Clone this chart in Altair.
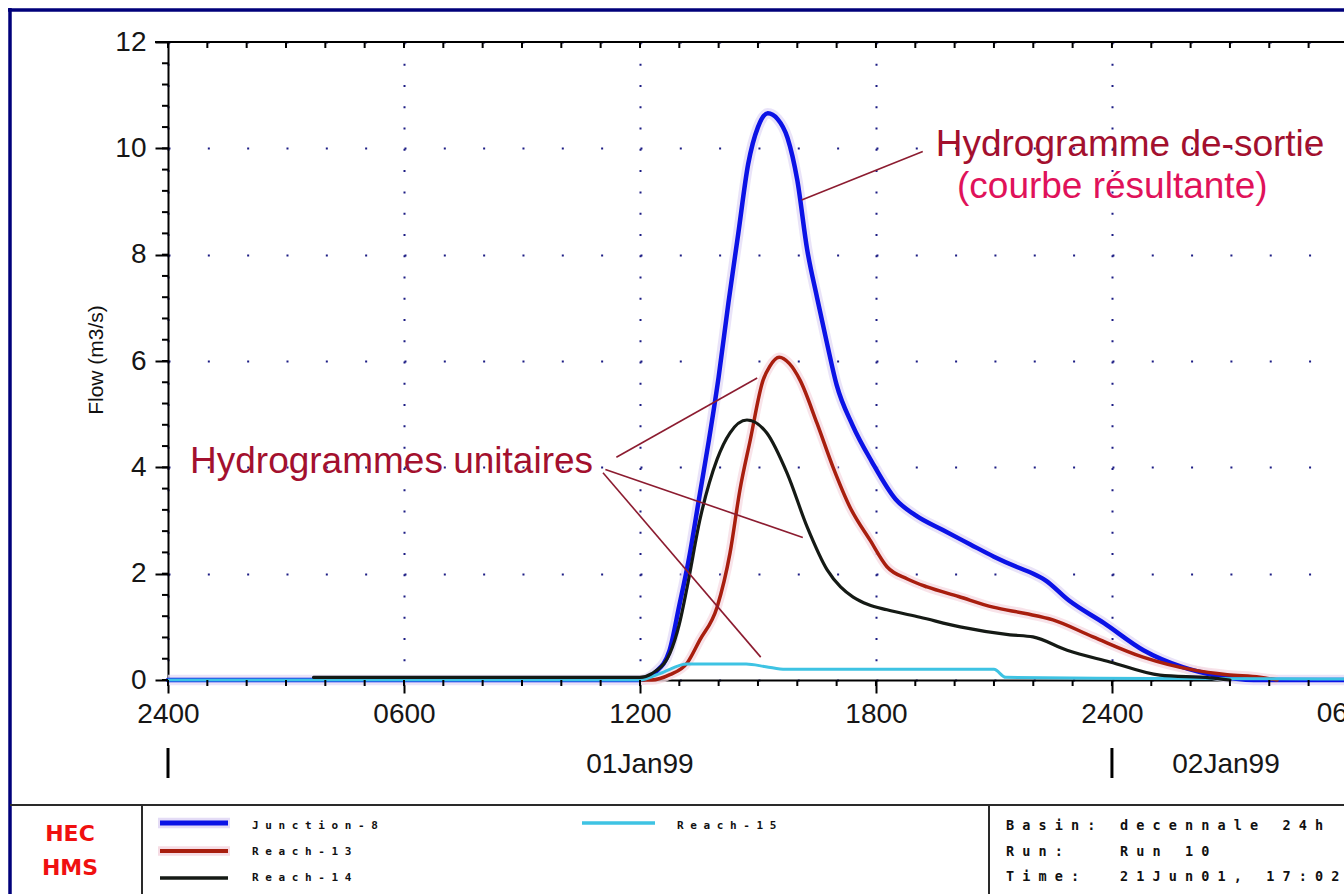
import altair as alt
import pandas as pd

# ---------------- data ----------------
series_names = ["Junction-8", "Reach-13", "Reach-14", "Reach-15"]
series_colors = ["#0b12e6", "#a81e0e", "#151a15", "#3ec3e3"]
series_halo = ["#e4dcf6", "#f6dce4", None, None]
series_widths = [4.5, 3.5, 3.2, 3.0]
draw_order = ["Junction-8", "Reach-13", "Reach-15", "Reach-14"]

junction8_t = [0, 12.0, 12.4, 12.75, 13.0, 13.25, 13.5, 13.75, 14.0, 14.25, 14.5, 14.75,
               15.0, 15.25, 15.5, 15.75, 16.0, 16.25, 16.5, 16.75, 17.0, 17.4, 17.9, 18.5,
               19.0, 19.7, 20.4, 21.0, 21.6, 22.0, 22.3, 22.9, 23.8, 24.8, 25.8, 26.6, 27.6, 29.9]
junction8_q = [0, 0.0, 0.15, 0.55, 1.4, 2.3, 3.4, 4.5, 5.7, 7.1, 8.4, 9.7,
               10.4, 10.66, 10.55, 10.2, 9.4, 8.1, 7.2, 6.35, 5.55, 4.8, 4.1, 3.4,
               3.1, 2.82, 2.55, 2.32, 2.12, 2.0, 1.88, 1.5, 1.07, 0.56, 0.24, 0.09, 0.0, 0.0]

reach13_t = [12.0, 12.3, 12.76, 13.2, 13.52, 13.96, 14.29, 14.54, 14.8, 15.13, 15.3, 15.54, 15.8,
             16.07, 16.5, 16.91, 17.34, 17.85, 18.28, 18.8, 19.3, 20.1, 20.98, 21.8, 22.5,
             23.52, 24.79, 26.06, 26.93, 27.76, 28.2]
reach13_q = [0, 0, 0.1, 0.32, 0.75, 1.37, 2.39, 3.57, 4.5, 5.64, 5.9, 6.07, 5.95,
             5.64, 4.83, 4.0, 3.25, 2.63, 2.13, 1.9, 1.75, 1.57, 1.37, 1.25, 1.13,
             0.81, 0.43, 0.19, 0.1, 0.05, 0.0]

reach14_t = [3.7, 12.0, 12.3, 12.76, 13.0, 13.2, 13.52, 13.96, 14.29, 14.72, 15.23, 15.74,
             16.25, 16.76, 17.1, 17.42, 17.8, 18.28, 19.12, 20.14, 21.41, 21.99, 22.86,
             23.95, 25.22, 26.49, 27.0]
reach14_q = [0.05, 0.05, 0.12, 0.5, 1.05, 1.75, 3.0, 4.15, 4.65, 4.89, 4.64, 3.89,
             2.88, 2.07, 1.75, 1.56, 1.42, 1.32, 1.18, 1.0, 0.85, 0.81, 0.56,
             0.34, 0.09, 0.04, 0.0]

reach15_t = [0, 12.0, 12.5, 13.2, 14.7, 15.2, 15.7, 16.2, 21.0, 21.3, 25.0, 29.9]
reach15_q = [0, 0, 0.12, 0.3, 0.3, 0.25, 0.2, 0.2, 0.2, 0.05, 0.03, 0.02]

series_t = {"Junction-8": junction8_t, "Reach-13": reach13_t,
            "Reach-14": reach14_t, "Reach-15": reach15_t}
series_q = {"Junction-8": junction8_q, "Reach-13": reach13_q,
            "Reach-14": reach14_q, "Reach-15": reach15_q}

xtick_values = [0, 6, 12, 18, 24]
xtick_labels = ["2400", "0600", "1200", "1800", "2400"]
next_tick_t = [30]
next_tick_label = ["0600"]
ytick_values = [0, 2, 4, 6, 8, 10, 12]
hour_ticks = list(range(0, 30))
flow_minor_ticks = [round(0.4 * i, 1) for i in range(31)]
day_starts = [0, 24]
day_labels = ["01Jan99", "02Jan99"]
day_label_t = [12, 26.9]

ann_text = ["Hydrogramme de-sortie", "(courbe résultante)", "Hydrogrammes unitaires"]
ann_t = [19.52, 20.06, 0.56]
ann_q = [9.855, 9.065, 3.893]
ann_color = ["#a3102e", "#e0125a", "#a3102e"]

lead_t1 = [19.19, 11.40, 11.12, 11.06]
lead_q1 = [9.94, 4.19, 3.96, 3.90]
lead_t2 = [16.11, 14.98, 16.14, 15.07]
lead_q2 = [9.03, 5.68, 2.68, 0.43]

legend_rows = [0, 1, 2, 0]
legend_cols = [0, 0, 0, 1]
info_keys = ["Basin:", "Run:", "Time:"]
info_vals = ["decennale 24h", "Run 10", "21Jun01, 17:02"]

# ---------------- layout constants (pixels relative to plot origin) ----------------
W, H = 1176, 638
FONT = "Liberation Sans"
MONO = "DejaVu Sans Mono"
NBSP = "\u00a0"


def spaced(s):
    return NBSP.join(s.replace(" ", NBSP))


xs = alt.Scale(domain=[0, 29.9], nice=False, zero=False)
ys = alt.Scale(domain=[0, 12], nice=False)

label_expr = " : ".join(f"datum.value == {v} ? '{l}'" for v, l in zip(xtick_values, xtick_labels)) + " : ''"

xaxis = alt.Axis(values=xtick_values, labelExpr=label_expr, title=None,
                 grid=True, gridColor="#1c1c84", gridWidth=2, gridDash=[2, 19.27],
                 tickSize=13, tickWidth=2, tickColor="black",
                 domainColor="black", domainWidth=2,
                 labelFont=FONT, labelFontSize=28, labelColor="#161616",
                 labelPadding=7, labelOverlap=False, labelFlush=False)
yaxis = alt.Axis(values=ytick_values, title=None,
                 grid=True, gridColor="#1c1c84", gridWidth=2, gridDash=[2, 37.33],
                 tickSize=13, tickWidth=2, tickColor="black",
                 domainColor="black", domainWidth=2,
                 labelFont=FONT, labelFontSize=28, labelColor="#161616",
                 labelPadding=9, labelOverlap=False)

X = alt.X("t:Q", scale=xs, axis=xaxis)
Y = alt.Y("q:Q", scale=ys, axis=yaxis)


def one():
    return pd.DataFrame({"k": [0]})


def vrule(x, y1, y2, color, width):
    return alt.Chart(one()).mark_rule(color=color, strokeWidth=width).encode(
        x=alt.value(x), y=alt.value(y1), y2=alt.value(y2))


def hrule(x1, x2, y, color, width):
    return alt.Chart(one()).mark_rule(color=color, strokeWidth=width).encode(
        x=alt.value(x1), x2=alt.value(x2), y=alt.value(y))


def label(text, x, y, size, font, color="black", bold=False, align="left",
          baseline="middle", angle=0):
    return alt.Chart(pd.DataFrame({"txt": [text]})).mark_text(
        align=align, baseline=baseline, font=font, fontSize=size, color=color,
        fontWeight="bold" if bold else "normal", angle=angle
    ).encode(x=alt.value(x), y=alt.value(y), text="txt:N")


layers = []

# base layer carrying the axes + grid
layers.append(alt.Chart(pd.DataFrame({"t": [0], "q": [0]})).mark_point(opacity=0).encode(x=X, y=Y))

# halos (soft edges as in the scanned original)
for name in draw_order:
    i = series_names.index(name)
    if series_halo[i]:
        df = pd.DataFrame({"t": series_t[name], "q": series_q[name]})
        layers.append(alt.Chart(df).mark_line(color=series_halo[i], strokeWidth=series_widths[i] + 6,
                                              interpolate="monotone", opacity=0.8)
                      .encode(x=X, y=Y))

# curves
for name in draw_order:
    i = series_names.index(name)
    df = pd.DataFrame({"t": series_t[name], "q": series_q[name]})
    layers.append(alt.Chart(df).mark_line(color=series_colors[i], strokeWidth=series_widths[i],
                                          strokeJoin="round", strokeCap="round",
                                          interpolate="monotone")
                  .encode(x=X, y=Y))

# minor ticks
hours = pd.DataFrame({"t": hour_ticks})
layers.append(alt.Chart(hours).mark_rule(color="black", strokeWidth=2).encode(
    x=X, y=alt.value(H), y2=alt.value(H + 6)))
layers.append(alt.Chart(hours).mark_rule(color="black", strokeWidth=2).encode(
    x=X, y=alt.value(0), y2=alt.value(6)))
layers.append(alt.Chart(pd.DataFrame({"q": flow_minor_ticks})).mark_rule(color="black", strokeWidth=2).encode(
    y=Y, x=alt.value(-6), x2=alt.value(0)))
# top border line
layers.append(hrule(-13, W, 0, "black", 2))

# partial next label at the right edge
layers.append(alt.Chart(pd.DataFrame({"t": next_tick_t, "lab": next_tick_label})).mark_text(
    font=FONT, fontSize=28, color="#161616", align="center", baseline="top").encode(
    x=X, y=alt.value(H + 20), text="lab:N"))

# day row
layers.append(alt.Chart(pd.DataFrame({"t": day_starts})).mark_rule(color="black", strokeWidth=3).encode(
    x=X, y=alt.value(706), y2=alt.value(736)))
layers.append(alt.Chart(pd.DataFrame({"t": day_label_t, "lab": day_labels})).mark_text(
    font=FONT, fontSize=28, color="#161616", align="center", baseline="alphabetic").encode(
    x=X, y=alt.value(731), text="lab:N"))

# y title
layers.append(label("Flow (m3/s)", -71, 318, 21, FONT, color="#111", align="center", angle=270))

# annotations
leads = pd.DataFrame({"t": lead_t1, "q": lead_q1, "t2": lead_t2, "q2": lead_q2})
layers.append(alt.Chart(leads).mark_rule(color="#8c1c30", strokeWidth=1.6).encode(
    x=X, y=Y, x2="t2:Q", y2="q2:Q"))
ann = pd.DataFrame({"t": ann_t, "q": ann_q, "txt": ann_text, "c": ann_color})
layers.append(alt.Chart(ann).mark_text(font=FONT, fontSize=37, align="left", baseline="alphabetic").encode(
    x=X, y=Y, text="txt:N", color=alt.Color("c:N", scale=None)))

# frame
NAVY = "#00007a"
layers.append(vrule(-158, -34, 860, NAVY, 3.5))
layers.append(hrule(-160, W + 5, -32, NAVY, 3.5))
layers.append(hrule(-158, W + 5, 763, "#2a2a2a", 2))
layers.append(vrule(-26, 763, 860, "#2a2a2a", 2))
layers.append(vrule(821, 763, 860, "#2a2a2a", 2))

# logo
layers.append(label("HEC", -98, 792, 22, "DejaVu Sans", color="#f01010", bold=True, align="center"))
layers.append(label("HMS", -98, 826, 22, "DejaVu Sans", color="#f01010", bold=True, align="center"))

# legend
col_line_x = [(-8, 60), (414, 487)]
col_text_x = [84, 509]
row_line_y = [781, 809, 836]
row_text_y = [784, 810, 836]
for i, name in enumerate(series_names):
    r, c = legend_rows[i], legend_cols[i]
    x1, x2 = col_line_x[c]
    if series_halo[i]:
        layers.append(hrule(x1 - 2, x2 + 2, row_line_y[r], series_halo[i], series_widths[i] + 6))
    layers.append(hrule(x1, x2, row_line_y[r], series_colors[i], series_widths[i] + 0.5))
    layers.append(label(spaced(name), col_text_x[c], row_text_y[r], 11, MONO, color="#111", bold=True))

# info block
info_y = [784, 810, 835]
for k, v, yy in zip(info_keys, info_vals, info_y):
    layers.append(label(spaced(k), 838, yy, 13.5, MONO, color="#111", bold=True))
    layers.append(label(spaced(v), 952, yy, 13.5, MONO, color="#111", bold=True))

chart = alt.layer(*layers).properties(
    width=W, height=H,
    padding={"left": 168, "top": 42, "right": 0, "bottom": 214},
    autosize=alt.AutoSizeParams(type="none"),
    background="white",
).configure_view(stroke=None)

chart.save("out.html", embed_options={"renderer": "svg", "actions": False})
